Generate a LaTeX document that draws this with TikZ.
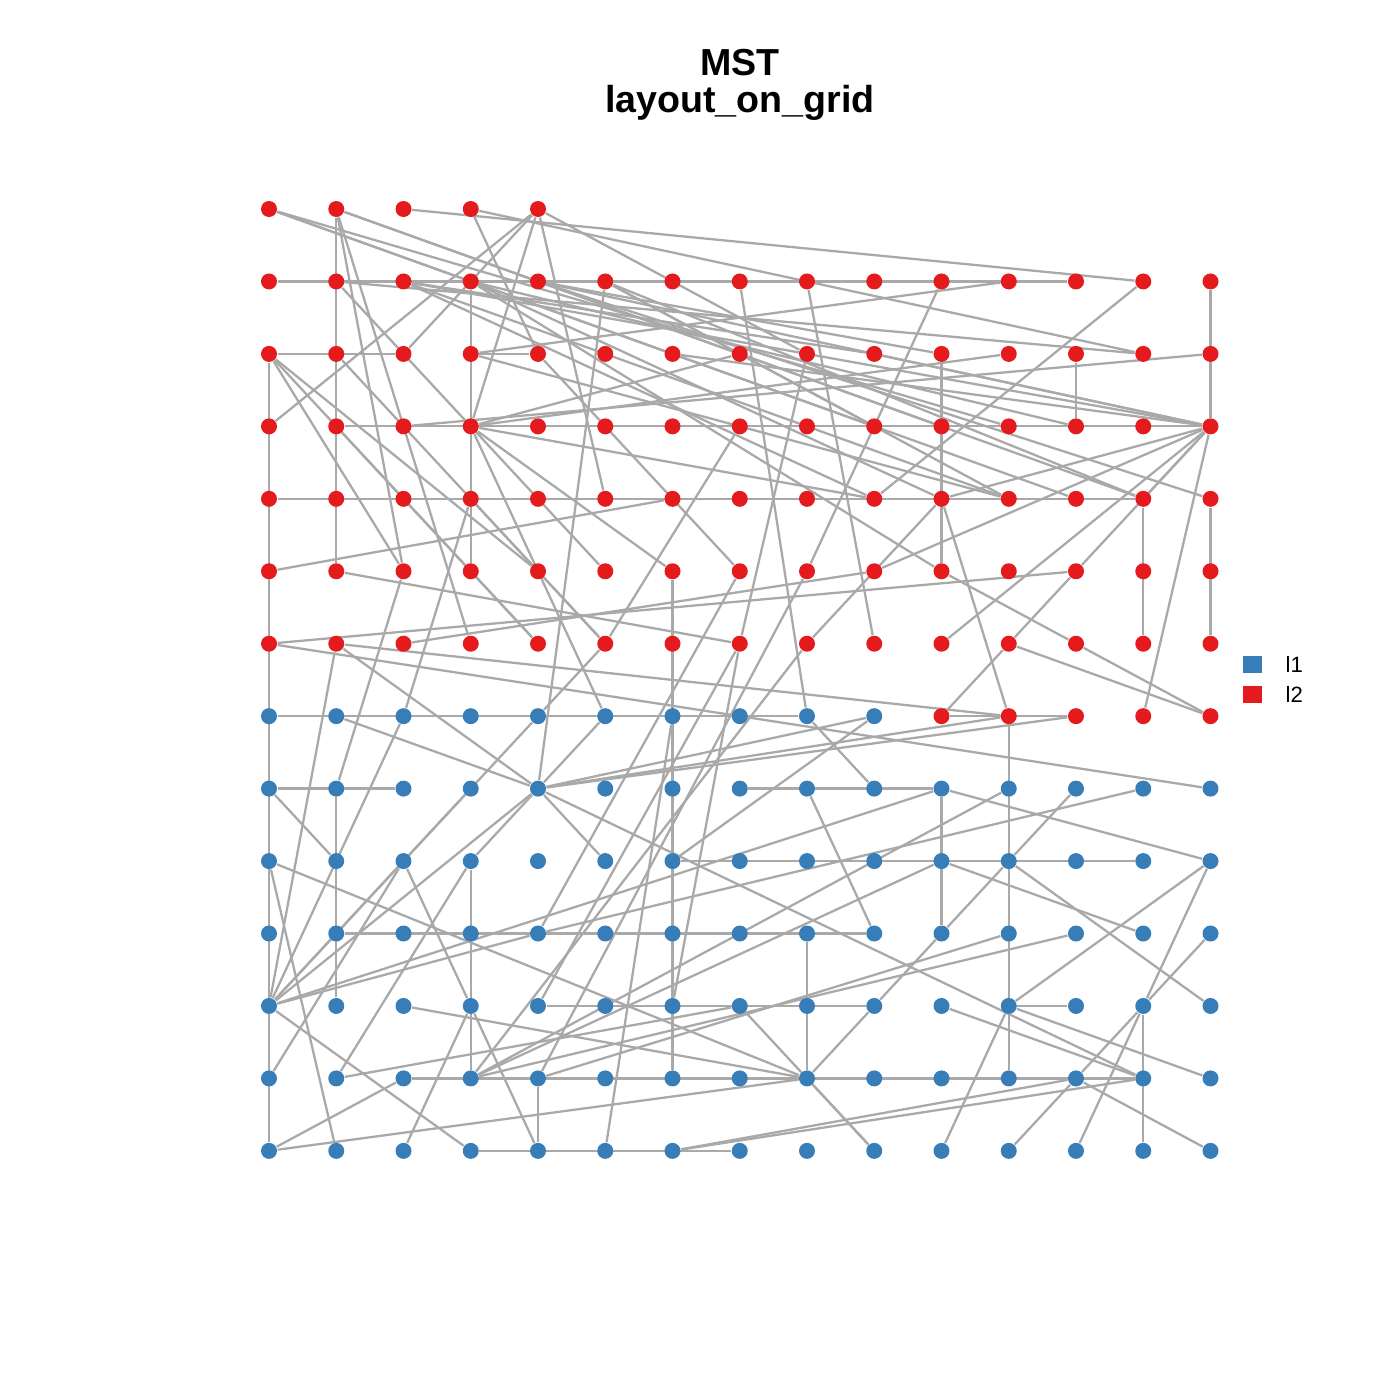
\documentclass[tikz,border=0pt]{standalone}
\usepackage{fontspec}
\setmainfont{Liberation Sans}
\usetikzlibrary{backgrounds}
\definecolor{ltwo}{HTML}{E41A1C}
\definecolor{lone}{HTML}{377EB8}
\definecolor{edgegray}{HTML}{A9A9A9}

\begin{document}
\begin{tikzpicture}[
        vtx/.style={circle, inner sep=0pt, minimum size=0.16cm},
        link/.style={draw=edgegray, line width=0.65pt},
        keybox/.style={minimum width=0.19cm, minimum height=0.17cm, inner sep=0pt},
        keytxt/.style={anchor=west, inner sep=0pt, font=\fontsize{6.3}{7}\selectfont},
        ttl/.style={font=\fontsize{10.7}{13}\selectfont\bfseries}
    ]
        \useasboundingbox (0,0) rectangle (14,-14);
        \node[ttl] (main) at (7.40,-0.63) {MST};
        \node[ttl] (sub)  at (7.40,-1.03) {layout\_on\_grid};

        % grid: column c to the right, row r downwards
        \begin{scope}[shift={(2.69,-2.09)}, x=0.6725cm, y=-0.7245cm]
        \foreach \c in {0,...,4} \node[vtx, fill=ltwo] (v0-\c) at (\c,0) {};
        \foreach \r in {1,...,6} \foreach \c in {0,...,14}
            \node[vtx, fill=ltwo] (v\r-\c) at (\c,\r) {};
        \foreach \c in {0,...,9} \node[vtx, fill=lone] (v7-\c) at (\c,7) {};
        \foreach \c in {10,...,14} \node[vtx, fill=ltwo] (v7-\c) at (\c,7) {};
        \foreach \r in {8,...,13} \foreach \c in {0,...,14}
            \node[vtx, fill=lone] (v\r-\c) at (\c,\r) {};
        \end{scope}

        \begin{scope}[on background layer]
        % straight runs along rows and columns
        \foreach \a/\b in {1-0/1-12, 2-0/2-2, 2-3/2-4, 3-1/3-14, 4-0/4-13, 7-0/7-8,
            8-0/8-2, 8-7/8-10, 9-6/9-13, 10-1/10-9, 11-4/11-9, 11-11/11-12,
            12-2/12-13, 13-3/13-7, 7-10/7-12,
            0-1/5-1, 2-0/13-0, 1-3/5-3, 8-1/11-1, 9-3/12-3, 12-4/13-4, 5-6/12-6,
            10-8/12-8, 2-10/5-10, 8-10/10-10, 7-11/12-11, 2-12/3-12, 4-13/6-13,
            11-13/13-13, 1-14/3-14, 4-14/6-14}
            \draw[link] (v\a) -- (v\b);
        % the other tree edges
        \foreach \a/\b in {0-0/3-9, 0-0/3-11, 0-0/4-12,
            0-1/3-10, 0-1/4-13, 0-1/5-2, 0-1/6-3, 0-2/1-13,
            0-3/2-4, 0-3/2-13, 0-4/3-0, 0-4/2-2, 0-4/3-3, 0-4/4-5, 0-4/2-8,
            1-1/2-13, 1-1/5-5, 1-2/3-14, 1-2/4-11, 1-2/2-9, 1-2/4-9,
            1-3/3-12, 1-3/4-10, 1-3/5-10, 1-4/3-14, 1-4/4-14, 1-4/2-10,
            1-5/8-4, 1-5/4-11, 1-5/3-9, 1-5/4-13, 1-7/7-8, 1-10/5-8, 1-13/4-9,
            2-14/3-2, 2-0/5-2, 2-0/6-4, 2-0/5-4, 2-1/6-5, 3-1/6-4, 2-3/1-11,
            3-3/2-7, 3-3/2-11, 3-3/4-9, 3-3/5-6, 3-3/7-5,
            2-3/4-11, 2-4/5-7, 2-6/3-14, 2-9/3-14, 4-10/3-14, 4-13/3-14,
            5-9/3-14, 6-10/3-14, 7-13/3-14, 5-12/3-14,
            7-10/6-11, 6-11/5-12, 6-11/7-14, 6-12/7-14, 5-10/6-12, 7-11/4-10,
            6-0/8-14, 6-1/7-11, 6-0/5-12,
            4-3/6-5, 6-5/3-7, 6-7/5-1, 6-7/11-6, 6-7/2-8, 6-8/4-10, 6-9/1-8,
            7-1/8-4, 6-1/8-4, 7-5/8-4, 7-2/4-3, 7-4/6-5, 5-0/4-6, 8-1/5-2, 6-2/5-9,
            7-8/8-9, 8-10/9-14, 8-13/10-4, 8-12/9-11, 8-8/10-9,
            9-14/11-13, 9-14/11-11, 9-11/11-14, 10-10/9-11, 9-10/10-13, 10-14/11-13,
            10-12/12-3, 10-11/12-4, 11-10/12-13, 8-4/12-13, 11-11/12-14,
            12-12/11-13, 12-12/13-11, 12-12/13-14, 11-13/13-12, 13-10/11-11,
            13-6/12-12, 13-6/12-13, 12-8/11-9, 12-8/13-9, 11-7/13-9, 11-9/10-10,
            11-0/6-1, 11-0/7-2, 11-0/8-3, 11-0/7-4, 11-0/8-4, 11-0/10-4,
            11-0/8-10, 11-0/13-3, 9-0/13-1, 9-0/12-8, 8-0/9-1, 8-4/9-3,
            12-1/9-3, 12-1/11-7, 12-0/9-2, 9-2/11-3, 11-3/13-4, 13-2/11-3,
            11-2/12-8, 13-0/12-2, 13-0/12-8, 12-3/9-10, 12-3/8-11, 12-3/6-8,
            12-4/5-8, 11-4/6-7, 10-4/5-7, 8-4/7-9, 8-4/7-11, 8-4/7-12, 8-4/9-5,
            13-5/7-6, 7-9/9-6}
            \draw[link] (v\a) -- (v\b);
        \end{scope}

        % legend
        \node[keybox, fill=lone] (k1) at (12.52,-6.64) {};
        \node[keybox, fill=ltwo] (k2) at (12.52,-6.94) {};
        \node[keytxt] (l1) at (12.85,-6.64) {l1};
        \node[keytxt] (l2) at (12.85,-6.94) {l2};
    \end{tikzpicture}
\end{document}
